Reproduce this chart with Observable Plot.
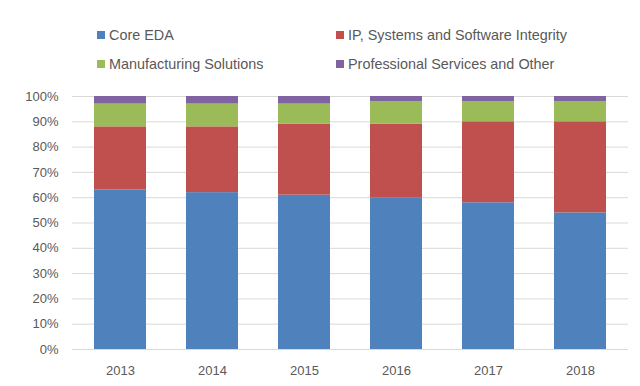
<!DOCTYPE html>
<html>
<head>
<meta charset="utf-8">
<script src="https://cdn.jsdelivr.net/npm/d3@7"></script>
<script src="https://cdn.jsdelivr.net/npm/@observablehq/plot@0.6"></script>
<style>
  html, body { margin: 0; padding: 0; background: #fff; }
  #wrap { width: 640px; height: 386px; position: relative; font-family: "Liberation Sans", Arial, sans-serif; }
  #legend { position: relative; height: 80px; width: 640px; }
  .item { position: absolute; display: flex; align-items: center; font-size: 14.4px; color: #595959; white-space: nowrap; }
  .sw { width: 8px; height: 8px; margin-right: 4px; }
  svg { display: block; }
</style>
</head>
<body>
<div id="wrap">
  <div id="legend"></div>
  <div id="chart"></div>
</div>
<script>
const years = ["2013", "2014", "2015", "2016", "2017", "2018"];
const segments = ["Core EDA", "IP, Systems and Software Integrity", "Manufacturing Solutions", "Professional Services and Other"];
const colors = ["#4F81BD", "#C0504D", "#9BBB59", "#8064A2"];
const coreEDA = [63, 62, 61, 60, 58, 54];
const ipSystemsSoftware = [25, 26, 28, 29, 32, 36];
const manufacturing = [9, 9, 8, 9, 8, 8];
const professionalServices = [3, 3, 3, 2, 2, 2];
const yTicks = [0, 10, 20, 30, 40, 50, 60, 70, 80, 90, 100];

const seriesValues = [coreEDA, ipSystemsSoftware, manufacturing, professionalServices];
const data = [];
segments.forEach((s, si) => {
  years.forEach((y, yi) => data.push({year: y, segment: s, value: seriesValues[si][yi]}));
});

// Legend (HTML, above the SVG)
const legend = document.getElementById("legend");
const legendPos = [[97, 35], [336, 35], [97, 64], [336, 64]];
segments.forEach((s, i) => {
  const d = document.createElement("div");
  d.className = "item";
  d.style.left = legendPos[i][0] + "px";
  d.style.top = (legendPos[i][1] - 9) + "px";
  d.style.height = "18px";
  d.innerHTML = `<span class="sw" style="background:${colors[i]}"></span><span></span>`;
  d.lastChild.textContent = s;
  legend.appendChild(d);
});

const chart = Plot.plot({
  width: 640,
  height: 306,
  marginTop: 16,
  marginBottom: 37,
  marginLeft: 72,
  marginRight: 12,
  style: {fontFamily: "'Liberation Sans', Arial, sans-serif", fontSize: "13px", color: "#595959", background: "#fff"},
  x: {domain: years, paddingInner: 0.44, paddingOuter: 0.22, label: null, tickSize: 0, tickPadding: 16},
  y: {domain: [0, 100], ticks: yTicks, tickFormat: d => d + "%", label: null, tickSize: 0, tickPadding: 14},
  color: {domain: segments, range: colors},
  marks: [
    Plot.ruleY(yTicks, {stroke: "#D9D9D9", strokeWidth: 1}),
    Plot.barY(data, {x: "year", y: "value", fill: "segment", order: segments})
  ]
});
document.getElementById("chart").appendChild(chart);
</script>
</body>
</html>
